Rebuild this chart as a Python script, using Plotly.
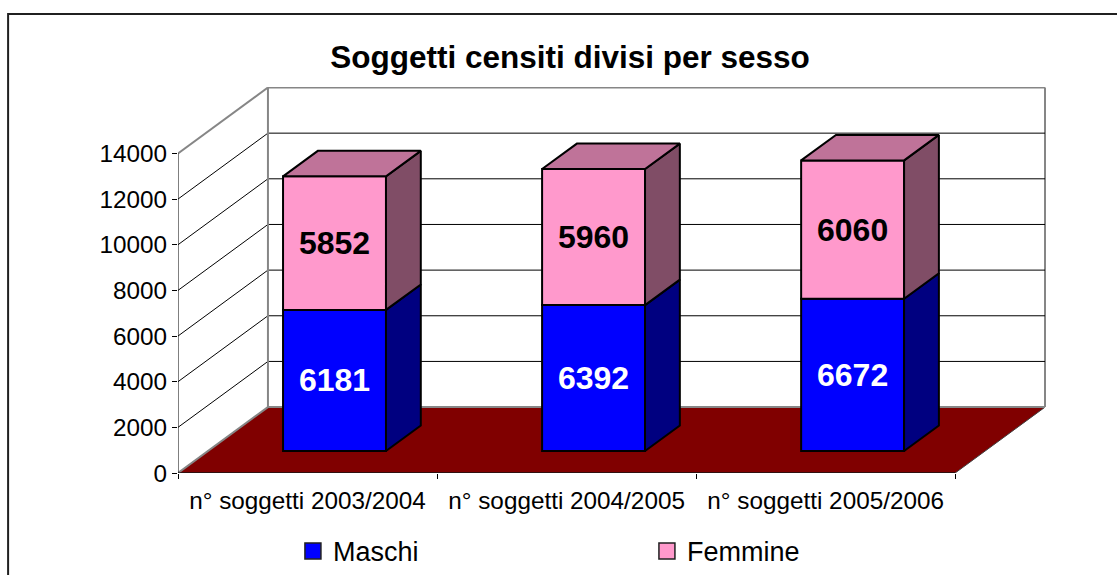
import plotly.graph_objects as go

categories = ["n° soggetti 2003/2004", "n° soggetti 2004/2005", "n° soggetti 2005/2006"]
maschi = [6181, 6392, 6672]
femmine = [5852, 5960, 6060]
y_ticks = [0, 2000, 4000, 6000, 8000, 10000, 12000, 14000]
y_tick_text = ["0", "2000", "4000", "6000", "8000", "10000", "12000", "14000"]

FONT = "Liberation Sans, Arial, sans-serif"
W, H = 1117, 575
L, R, T, B = 177.5, 1045.0, 87.0, 473.5
PX_X = 259.2
PX_Y = 320 / 14000
DX, DY = 90 / PX_X, 66 / PX_Y
F1, F2 = 1 / 3, 0.72
FX1, FX2 = 0.30, 0.687
BW = 103 / PX_X
XMIN = -0.5
XEND = 2.5
YMAX = (B - T) / PX_Y
XMAX = XMIN + (R - L) / PX_X
GRAY = "#868686"

fig = go.Figure()


def bx(i, side, depth):
    return i + side * BW / 2 + depth * DX


def by(v, depth):
    return v + depth * DY


def add_faces(xi, lo, hi, side_col, top_col=None):
    fig.add_trace(go.Scatter(
        x=[bx(xi, 1, FX1), bx(xi, 1, FX2), bx(xi, 1, FX2), bx(xi, 1, FX1), bx(xi, 1, FX1)],
        y=[by(lo, F1), by(lo, F2), by(hi, F2), by(hi, F1), by(lo, F1)],
        mode="lines", fill="toself", fillcolor=side_col,
        line=dict(color="black", width=2), hoverinfo="skip", showlegend=False))
    if top_col:
        fig.add_trace(go.Scatter(
            x=[bx(xi, -1, FX1), bx(xi, 1, FX1), bx(xi, 1, FX2), bx(xi, -1, FX2), bx(xi, -1, FX1)],
            y=[by(hi, F1), by(hi, F1), by(hi, F2), by(hi, F2), by(hi, F1)],
            mode="lines", fill="toself", fillcolor=top_col,
            line=dict(color="black", width=2), hoverinfo="skip", showlegend=False))


xs = [0, 1, 2]
fig.add_trace(go.Bar(
    x=[i + FX1 * DX for i in xs], y=maschi, base=[F1 * DY] * 3, width=BW,
    marker=dict(color="#0000FF", line=dict(color="black", width=2)),
    text=[f"<b>{v}</b>" for v in maschi], textposition="inside", insidetextanchor="middle",
    textangle=0, constraintext="none",
    insidetextfont=dict(color="white", size=32, family=FONT),
    showlegend=False, hoverinfo="skip"))
fig.add_trace(go.Bar(
    x=[i + FX1 * DX for i in xs], y=femmine, base=[m + F1 * DY for m in maschi], width=BW,
    marker=dict(color="#FF99CC", line=dict(color="black", width=2)),
    text=[f"<b>{v}</b>" for v in femmine], textposition="inside", insidetextanchor="middle",
    textangle=0, constraintext="none",
    insidetextfont=dict(color="black", size=32, family=FONT),
    showlegend=False, hoverinfo="skip"))

for i in xs:
    add_faces(i, 0, maschi[i], "#000080")
    add_faces(i, maschi[i], maschi[i] + femmine[i], "#804D66", "#BF7399")

# axis lines: unclipped so they are not cut in half at the plot edge
for ax_x, ax_y in (([XMIN, XMIN], [0, y_ticks[-1]]), ([XMIN, XEND], [0, 0])):
    fig.add_trace(go.Scatter(x=ax_x, y=ax_y, mode="lines", cliponaxis=False,
                             line=dict(color="black", width=1),
                             hoverinfo="skip", showlegend=False))

fig.add_trace(go.Scatter(x=[None], y=[None], mode="markers", name="Maschi",
                         marker=dict(symbol="square", size=16, color="#0000FF",
                                     line=dict(color="#202020", width=1.5))))
fig.add_trace(go.Scatter(x=[None], y=[None], mode="markers", name="Femmine",
                         marker=dict(symbol="square", size=16, color="#FF99CC",
                                     line=dict(color="#202020", width=1.5))))

shapes = []


def seg(x0, y0, x1, y1, color="black", width=1, xref="x", yref="y"):
    shapes.append(dict(type="line", layer="below", xref=xref, yref=yref, x0=x0, y0=y0, x1=x1, y1=y1,
                       line=dict(color=color, width=width)))


# outer chart border (runs off the right and bottom of the picture)
shapes.append(dict(type="rect", layer="below", xref="paper", yref="paper",
                   x0=(7.5 - L) / (R - L), x1=(W + 20 - L) / (R - L),
                   y0=-1, y1=(B - 14) / (B - T),
                   line=dict(color="#202020", width=2), fillcolor="white"))
# floor
shapes.append(dict(type="path", layer="below", xref="x", yref="y",
                   path=f"M{XMIN},0 L{XEND},0 L{XEND + DX},{DY} L{XMIN + DX},{DY} Z",
                   fillcolor="#800000", line=dict(color="#404040", width=1)))
for v in y_ticks[1:-1]:
    seg(XMIN, v, XMIN + DX, v + DY)
    seg(XMIN + DX, v + DY, XEND + DX, v + DY)
top = y_ticks[-1]
seg(XMIN, top, XMIN + DX, top + DY, GRAY, 2)
seg(XMIN, 0, XMIN + DX, DY, GRAY, 2)
seg(XMIN + DX, top + DY, XEND + DX, top + DY, GRAY, 2)
seg(XMIN + DX, DY, XMIN + DX, top + DY, GRAY, 2)
seg(1, DY, 1, top + DY, GRAY, 2, xref="paper")
seg(XMIN + DX, DY, XEND + DX, DY, GRAY, 2)

fig.update_layout(
    width=W, height=H, paper_bgcolor="white", plot_bgcolor="rgba(0,0,0,0)",
    margin=dict(l=L, r=W - R, t=T, b=H - B, pad=0, autoexpand=False),
    barmode="overlay", shapes=shapes, font=dict(family=FONT, color="black"),
    title=dict(text="<b>Soggetti censiti divisi per sesso</b>", x=570 / W, xanchor="center",
               y=1 - 57 / H, yanchor="middle", font=dict(size=31.5, family=FONT, color="black")),
    xaxis=dict(range=[XMIN, XMAX], tickmode="array", tickvals=xs, ticktext=categories,
               ticks="", showgrid=False, zeroline=False, showline=False, ticklabelstandoff=11,
               tickfont=dict(size=24.3, family=FONT, color="black"),
               minor=dict(tickmode="array", tickvals=[-0.5, 0.5, 1.5, 2.5], ticks="outside",
                          ticklen=5, tickcolor="black", tickwidth=1, showgrid=False)),
    yaxis=dict(range=[0, YMAX], tickmode="array", tickvals=y_ticks, ticktext=y_tick_text,
               ticks="outside", ticklen=5,
               tickcolor="black", showgrid=False, zeroline=False, showline=False,
               tickfont=dict(size=24.3, family=FONT, color="black")),
    legend=dict(orientation="h", xanchor="left", yanchor="middle",
                x=(292.5 - L) / (R - L), y=(B - 552) / (B - T),
                entrywidth=309, entrywidthmode="pixels", bgcolor="rgba(0,0,0,0)",
                font=dict(size=27, family=FONT, color="black"), traceorder="normal"),
)

fig.write_html("out.html", config={"displayModeBar": False},
               post_script="document.body.style.margin='0';document.body.style.overflow='hidden';")
